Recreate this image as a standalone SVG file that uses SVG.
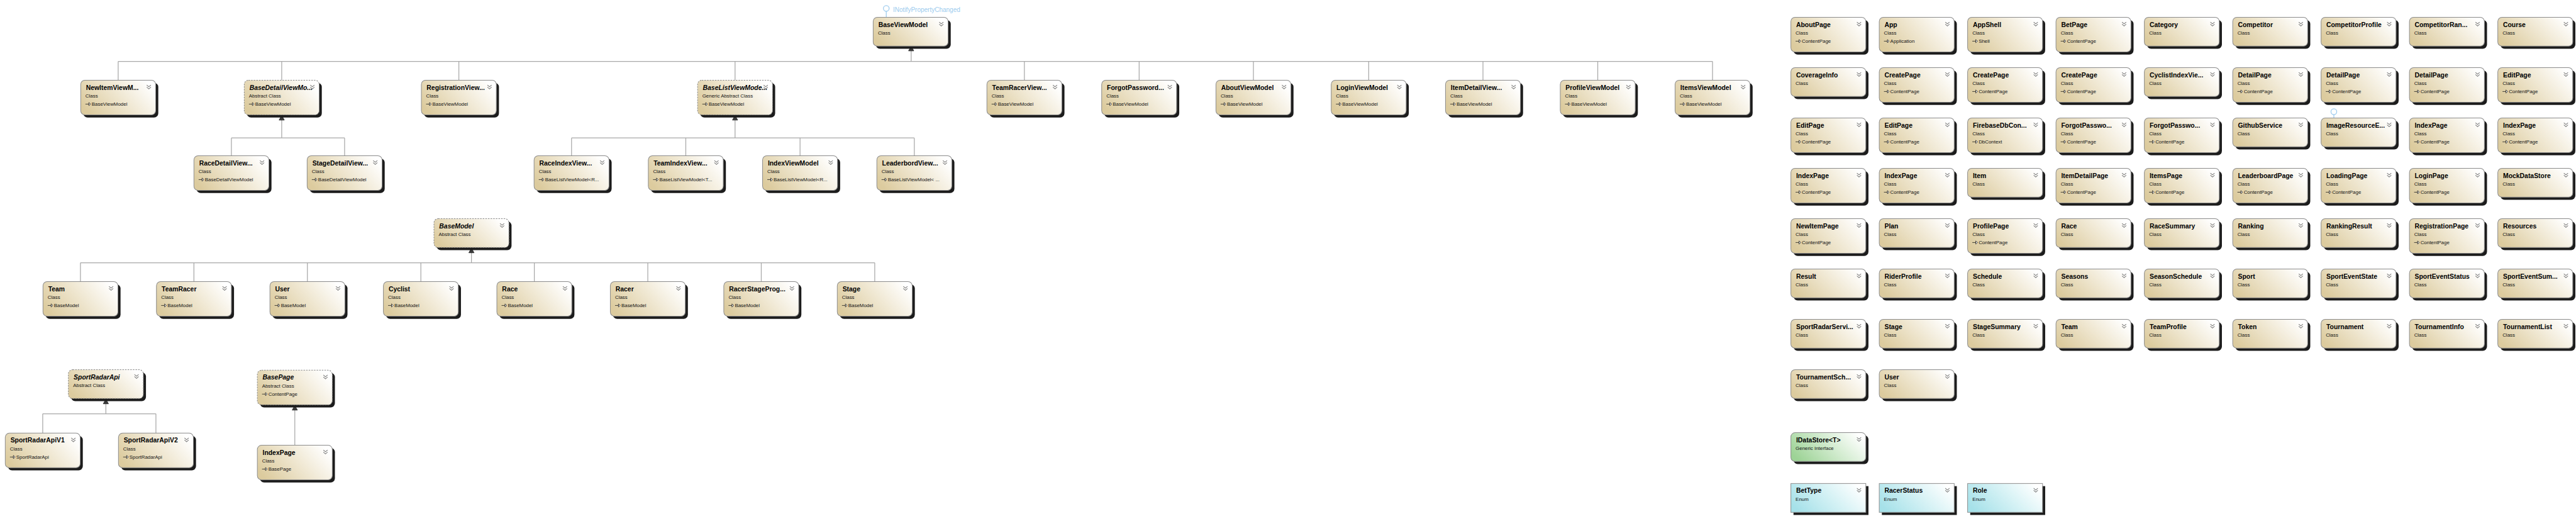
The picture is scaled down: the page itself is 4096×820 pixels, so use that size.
<svg xmlns="http://www.w3.org/2000/svg" xmlns:xlink="http://www.w3.org/1999/xlink" width="4096" height="820" viewBox="0 0 4096 820">
<defs>
<style>
.s{fill:#1c1c1c}
.b{fill:url(#gc);stroke:#8c8c8c;stroke-width:1.2}
.ab{fill:url(#gc);stroke:#8c8c8c;stroke-width:1.2;stroke-dasharray:3 2}
.be{fill:url(#ge);stroke:#8c8c8c;stroke-width:1.2}
.bi{fill:url(#gi);stroke:#8c8c8c;stroke-width:1.2}
.n{font-family:"Liberation Sans",Arial,sans-serif;font-weight:bold;font-size:12.5px;fill:#000}
.ni{font-style:italic}
.t{font-family:"Liberation Sans",Arial,sans-serif;font-size:9.5px;fill:#111}
.c{stroke:#a8a8a8;stroke-width:1.5;fill:none}
.ah{fill:#3a3a3a;stroke:#222;stroke-width:1}
.lp{stroke:#9ccbee;stroke-width:1.5;fill:#fff}
.lpt{font-family:"Liberation Sans",Arial,sans-serif;font-size:12px;fill:#9ccbee}
</style>
<linearGradient id="gc" x1="0" y1="0.7" x2="1" y2="0.3">
<stop offset="0" stop-color="#dccb9e"/><stop offset="0.55" stop-color="#f0e8d3"/><stop offset="1" stop-color="#ffffff"/>
</linearGradient>
<linearGradient id="ge" x1="0" y1="0.7" x2="1" y2="0.3">
<stop offset="0" stop-color="#a6e1e9"/><stop offset="0.55" stop-color="#d6f2f5"/><stop offset="1" stop-color="#ffffff"/>
</linearGradient>
<linearGradient id="gi" x1="0" y1="0.7" x2="1" y2="0.3">
<stop offset="0" stop-color="#9dd396"/><stop offset="0.55" stop-color="#d3ecd0"/><stop offset="1" stop-color="#ffffff"/>
</linearGradient>
<path id="chev" d="M0,0 L4,3.5 L8,0 M0,4 L4,7.5 L8,4" fill="none" stroke="#7a7a7a" stroke-width="1.2"/>
<path id="inh" d="M0,0 H7 M6.5,-3 L10,0 L6.5,3 Z" fill="#fff" stroke="#111" stroke-width="0.9"/>
<g id="c3"><rect class="s" x="5" y="5" width="143" height="66" rx="8"/><rect class="b" width="143" height="66" rx="8"/><use href="#chev" x="126" y="9"/></g>
<g id="c2"><rect class="s" x="5" y="5" width="143" height="55" rx="8"/><rect class="b" width="143" height="55" rx="8"/><use href="#chev" x="126" y="9"/></g>
<g id="a3"><rect class="s" x="5" y="5" width="143" height="66" rx="8"/><rect class="ab" width="143" height="66" rx="8"/><use href="#chev" x="126" y="9"/></g>
<g id="a2"><rect class="s" x="5" y="5" width="143" height="55" rx="8"/><rect class="ab" width="143" height="55" rx="8"/><use href="#chev" x="126" y="9"/></g>
<g id="e2"><rect class="s" x="5" y="5" width="143" height="55"/><rect class="be" width="143" height="55"/><use href="#chev" x="126" y="9"/></g>
<g id="i2"><rect class="s" x="5" y="5" width="143" height="55" rx="8"/><rect class="bi" width="143" height="55" rx="8"/><use href="#chev" x="126" y="9"/></g>
</defs>
<rect width="4096" height="820" fill="#fff"/>
<g transform="scale(0.833367)">
<g id="connectors">
<circle class="lp" cx="1691" cy="16" r="5.5"/>
<line class="lp" x1="1691" y1="21.5" x2="1691" y2="33"/>
<text class="lpt" x="1704" y="23">INotifyPropertyChanged</text>
<circle class="lp" cx="4453" cy="213" r="5.5"/>
<line class="lp" x1="4453" y1="218.5" x2="4453" y2="225"/>
<path class="c" d="M1738.5,97 V117 M225.5,117 H3267.5 M225.5,117 V153 M537.5,117 V153 M875.5,117 V153 M1402.5,117 V153 M1954.5,117 V153 M2173.5,117 V153 M2391.5,117 V153 M2611.5,117 V153 M2829.5,117 V153 M3048.5,117 V153 M3267.5,117 V153"/>
<polygon class="ah" points="1738.5,88 1733.5,97 1743.5,97"/>
<path class="c" d="M537.5,229 V263 M441.5,263 H657.5 M441.5,263 V297 M657.5,263 V297"/>
<polygon class="ah" points="537.5,220 532.5,229 542.5,229"/>
<path class="c" d="M1402.5,229 V263 M1090.5,263 H1744.5 M1090.5,263 V297 M1308.5,263 V297 M1526.5,263 V297 M1744.5,263 V297"/>
<polygon class="ah" points="1402.5,220 1397.5,229 1407.5,229"/>
<path class="c" d="M899.5,482 V501 M153.5,501 H1669 M153.5,501 V537 M370,501 V537 M586.5,501 V537 M803,501 V537 M1019.5,501 V537 M1236,501 V537 M1452.5,501 V537 M1669,501 V537"/>
<polygon class="ah" points="899.5,473 894.5,482 904.5,482"/>
<path class="c" d="M202,770 V789 M81.5,789 H297.5 M81.5,789 V826 M297.5,789 V826"/>
<polygon class="ah" points="202,761 197,770 207,770"/>
<path class="c" d="M562.5,782 V849"/>
<polygon class="ah" points="562.5,773 557.5,782 567.5,782"/>
</g>
<g id="BaseViewModel" transform="translate(1666,33)"><use href="#c2"/><text class="n" x="10" y="18">BaseViewModel</text><text class="t" x="9" y="33">Class</text></g>
<g id="NewItemViewModel" transform="translate(154,153)"><use href="#c3"/><text class="n" x="10" y="18">NewItemViewM...</text><text class="t" x="9" y="33">Class</text><use href="#inh" x="9" y="45.5"/><text class="t" x="21" y="49">BaseViewModel</text></g>
<g id="BaseDetailViewModel" transform="translate(466,153)"><use href="#a3"/><text class="n ni" x="10" y="18">BaseDetailViewMo...</text><text class="t" x="9" y="33">Abstract Class</text><use href="#inh" x="9" y="45.5"/><text class="t" x="21" y="49">BaseViewModel</text></g>
<g id="RegistrationViewModel" transform="translate(804,153)"><use href="#c3"/><text class="n" x="10" y="18">RegistrationView...</text><text class="t" x="9" y="33">Class</text><use href="#inh" x="9" y="45.5"/><text class="t" x="21" y="49">BaseViewModel</text></g>
<g id="BaseListViewModel" transform="translate(1331,153)"><use href="#a3"/><text class="n ni" x="10" y="18">BaseListViewMode...</text><text class="t" x="9" y="33">Generic Abstract Class</text><use href="#inh" x="9" y="45.5"/><text class="t" x="21" y="49">BaseViewModel</text></g>
<g id="TeamRacerViewModel" transform="translate(1883,153)"><use href="#c3"/><text class="n" x="10" y="18">TeamRacerView...</text><text class="t" x="9" y="33">Class</text><use href="#inh" x="9" y="45.5"/><text class="t" x="21" y="49">BaseViewModel</text></g>
<g id="ForgotPasswordViewModel" transform="translate(2102,153)"><use href="#c3"/><text class="n" x="10" y="18">ForgotPassword...</text><text class="t" x="9" y="33">Class</text><use href="#inh" x="9" y="45.5"/><text class="t" x="21" y="49">BaseViewModel</text></g>
<g id="AboutViewModel" transform="translate(2320,153)"><use href="#c3"/><text class="n" x="10" y="18">AboutViewModel</text><text class="t" x="9" y="33">Class</text><use href="#inh" x="9" y="45.5"/><text class="t" x="21" y="49">BaseViewModel</text></g>
<g id="LoginViewModel" transform="translate(2540,153)"><use href="#c3"/><text class="n" x="10" y="18">LoginViewModel</text><text class="t" x="9" y="33">Class</text><use href="#inh" x="9" y="45.5"/><text class="t" x="21" y="49">BaseViewModel</text></g>
<g id="ItemDetailViewModel" transform="translate(2758,153)"><use href="#c3"/><text class="n" x="10" y="18">ItemDetailView...</text><text class="t" x="9" y="33">Class</text><use href="#inh" x="9" y="45.5"/><text class="t" x="21" y="49">BaseViewModel</text></g>
<g id="ProfileViewModel" transform="translate(2977,153)"><use href="#c3"/><text class="n" x="10" y="18">ProfileViewModel</text><text class="t" x="9" y="33">Class</text><use href="#inh" x="9" y="45.5"/><text class="t" x="21" y="49">BaseViewModel</text></g>
<g id="ItemsViewModel" transform="translate(3196,153)"><use href="#c3"/><text class="n" x="10" y="18">ItemsViewModel</text><text class="t" x="9" y="33">Class</text><use href="#inh" x="9" y="45.5"/><text class="t" x="21" y="49">BaseViewModel</text></g>
<g id="RaceDetailViewModel" transform="translate(370,297)"><use href="#c3"/><text class="n" x="10" y="18">RaceDetailView...</text><text class="t" x="9" y="33">Class</text><use href="#inh" x="9" y="45.5"/><text class="t" x="21" y="49">BaseDetailViewModel</text></g>
<g id="StageDetailViewModel" transform="translate(586,297)"><use href="#c3"/><text class="n" x="10" y="18">StageDetailView...</text><text class="t" x="9" y="33">Class</text><use href="#inh" x="9" y="45.5"/><text class="t" x="21" y="49">BaseDetailViewModel</text></g>
<g id="RaceIndexViewModel" transform="translate(1019,297)"><use href="#c3"/><text class="n" x="10" y="18">RaceIndexView...</text><text class="t" x="9" y="33">Class</text><use href="#inh" x="9" y="45.5"/><text class="t" x="21" y="49">BaseListViewModel&lt;R...</text></g>
<g id="TeamIndexViewModel" transform="translate(1237,297)"><use href="#c3"/><text class="n" x="10" y="18">TeamIndexView...</text><text class="t" x="9" y="33">Class</text><use href="#inh" x="9" y="45.5"/><text class="t" x="21" y="49">BaseListViewModel&lt;T...</text></g>
<g id="IndexViewModel" transform="translate(1455,297)"><use href="#c3"/><text class="n" x="10" y="18">IndexViewModel</text><text class="t" x="9" y="33">Class</text><use href="#inh" x="9" y="45.5"/><text class="t" x="21" y="49">BaseListViewModel&lt;R...</text></g>
<g id="LeaderbordViewModel" transform="translate(1673,297)"><use href="#c3"/><text class="n" x="10" y="18">LeaderbordView...</text><text class="t" x="9" y="33">Class</text><use href="#inh" x="9" y="45.5"/><text class="t" x="21" y="49">BaseListViewModel&lt; ...</text></g>
<g id="BaseModel" transform="translate(828,417)"><use href="#a2"/><text class="n ni" x="10" y="18">BaseModel</text><text class="t" x="9" y="33">Abstract Class</text></g>
<g id="Team" transform="translate(82,537)"><use href="#c3"/><text class="n" x="10" y="18">Team</text><text class="t" x="9" y="33">Class</text><use href="#inh" x="9" y="45.5"/><text class="t" x="21" y="49">BaseModel</text></g>
<g id="TeamRacer" transform="translate(298.5,537)"><use href="#c3"/><text class="n" x="10" y="18">TeamRacer</text><text class="t" x="9" y="33">Class</text><use href="#inh" x="9" y="45.5"/><text class="t" x="21" y="49">BaseModel</text></g>
<g id="User" transform="translate(515,537)"><use href="#c3"/><text class="n" x="10" y="18">User</text><text class="t" x="9" y="33">Class</text><use href="#inh" x="9" y="45.5"/><text class="t" x="21" y="49">BaseModel</text></g>
<g id="Cyclist" transform="translate(731.5,537)"><use href="#c3"/><text class="n" x="10" y="18">Cyclist</text><text class="t" x="9" y="33">Class</text><use href="#inh" x="9" y="45.5"/><text class="t" x="21" y="49">BaseModel</text></g>
<g id="Race" transform="translate(948,537)"><use href="#c3"/><text class="n" x="10" y="18">Race</text><text class="t" x="9" y="33">Class</text><use href="#inh" x="9" y="45.5"/><text class="t" x="21" y="49">BaseModel</text></g>
<g id="Racer" transform="translate(1164.5,537)"><use href="#c3"/><text class="n" x="10" y="18">Racer</text><text class="t" x="9" y="33">Class</text><use href="#inh" x="9" y="45.5"/><text class="t" x="21" y="49">BaseModel</text></g>
<g id="RacerStageProgress" transform="translate(1381,537)"><use href="#c3"/><text class="n" x="10" y="18">RacerStageProg...</text><text class="t" x="9" y="33">Class</text><use href="#inh" x="9" y="45.5"/><text class="t" x="21" y="49">BaseModel</text></g>
<g id="Stage" transform="translate(1597.5,537)"><use href="#c3"/><text class="n" x="10" y="18">Stage</text><text class="t" x="9" y="33">Class</text><use href="#inh" x="9" y="45.5"/><text class="t" x="21" y="49">BaseModel</text></g>
<g id="SportRadarApi" transform="translate(130.5,705)"><use href="#a2"/><text class="n ni" x="10" y="18">SportRadarApi</text><text class="t" x="9" y="33">Abstract Class</text></g>
<g id="SportRadarApiV1" transform="translate(10,826)"><use href="#c3"/><text class="n" x="10" y="18">SportRadarApiV1</text><text class="t" x="9" y="33">Class</text><use href="#inh" x="9" y="45.5"/><text class="t" x="21" y="49">SportRadarApi</text></g>
<g id="SportRadarApiV2" transform="translate(226,826)"><use href="#c3"/><text class="n" x="10" y="18">SportRadarApiV2</text><text class="t" x="9" y="33">Class</text><use href="#inh" x="9" y="45.5"/><text class="t" x="21" y="49">SportRadarApi</text></g>
<g id="BasePage" transform="translate(491,706)"><use href="#a3"/><text class="n ni" x="10" y="18">BasePage</text><text class="t" x="9" y="33">Abstract Class</text><use href="#inh" x="9" y="45.5"/><text class="t" x="21" y="49">ContentPage</text></g>
<g id="IndexPage" transform="translate(491,849)"><use href="#c3"/><text class="n" x="10" y="18">IndexPage</text><text class="t" x="9" y="33">Class</text><use href="#inh" x="9" y="45.5"/><text class="t" x="21" y="49">BasePage</text></g>
<g id="r1c1" transform="translate(3417,33)"><use href="#c3"/><text class="n" x="10" y="18">AboutPage</text><text class="t" x="9" y="33">Class</text><use href="#inh" x="9" y="45.5"/><text class="t" x="21" y="49">ContentPage</text></g>
<g id="r1c2" transform="translate(3585.6,33)"><use href="#c3"/><text class="n" x="10" y="18">App</text><text class="t" x="9" y="33">Class</text><use href="#inh" x="9" y="45.5"/><text class="t" x="21" y="49">Application</text></g>
<g id="r1c3" transform="translate(3754.2,33)"><use href="#c3"/><text class="n" x="10" y="18">AppShell</text><text class="t" x="9" y="33">Class</text><use href="#inh" x="9" y="45.5"/><text class="t" x="21" y="49">Shell</text></g>
<g id="r1c4" transform="translate(3922.8,33)"><use href="#c3"/><text class="n" x="10" y="18">BetPage</text><text class="t" x="9" y="33">Class</text><use href="#inh" x="9" y="45.5"/><text class="t" x="21" y="49">ContentPage</text></g>
<g id="r1c5" transform="translate(4091.4,33)"><use href="#c2"/><text class="n" x="10" y="18">Category</text><text class="t" x="9" y="33">Class</text></g>
<g id="r1c6" transform="translate(4260,33)"><use href="#c2"/><text class="n" x="10" y="18">Competitor</text><text class="t" x="9" y="33">Class</text></g>
<g id="r1c7" transform="translate(4428.6,33)"><use href="#c2"/><text class="n" x="10" y="18">CompetitorProfile</text><text class="t" x="9" y="33">Class</text></g>
<g id="r1c8" transform="translate(4597.2,33)"><use href="#c2"/><text class="n" x="10" y="18">CompetitorRan...</text><text class="t" x="9" y="33">Class</text></g>
<g id="r1c9" transform="translate(4765.8,33)"><use href="#c2"/><text class="n" x="10" y="18">Course</text><text class="t" x="9" y="33">Class</text></g>
<g id="r2c1" transform="translate(3417,129)"><use href="#c2"/><text class="n" x="10" y="18">CoverageInfo</text><text class="t" x="9" y="33">Class</text></g>
<g id="r2c2" transform="translate(3585.6,129)"><use href="#c3"/><text class="n" x="10" y="18">CreatePage</text><text class="t" x="9" y="33">Class</text><use href="#inh" x="9" y="45.5"/><text class="t" x="21" y="49">ContentPage</text></g>
<g id="r2c3" transform="translate(3754.2,129)"><use href="#c3"/><text class="n" x="10" y="18">CreatePage</text><text class="t" x="9" y="33">Class</text><use href="#inh" x="9" y="45.5"/><text class="t" x="21" y="49">ContentPage</text></g>
<g id="r2c4" transform="translate(3922.8,129)"><use href="#c3"/><text class="n" x="10" y="18">CreatePage</text><text class="t" x="9" y="33">Class</text><use href="#inh" x="9" y="45.5"/><text class="t" x="21" y="49">ContentPage</text></g>
<g id="r2c5" transform="translate(4091.4,129)"><use href="#c2"/><text class="n" x="10" y="18">CyclistIndexVie...</text><text class="t" x="9" y="33">Class</text></g>
<g id="r2c6" transform="translate(4260,129)"><use href="#c3"/><text class="n" x="10" y="18">DetailPage</text><text class="t" x="9" y="33">Class</text><use href="#inh" x="9" y="45.5"/><text class="t" x="21" y="49">ContentPage</text></g>
<g id="r2c7" transform="translate(4428.6,129)"><use href="#c3"/><text class="n" x="10" y="18">DetailPage</text><text class="t" x="9" y="33">Class</text><use href="#inh" x="9" y="45.5"/><text class="t" x="21" y="49">ContentPage</text></g>
<g id="r2c8" transform="translate(4597.2,129)"><use href="#c3"/><text class="n" x="10" y="18">DetailPage</text><text class="t" x="9" y="33">Class</text><use href="#inh" x="9" y="45.5"/><text class="t" x="21" y="49">ContentPage</text></g>
<g id="r2c9" transform="translate(4765.8,129)"><use href="#c3"/><text class="n" x="10" y="18">EditPage</text><text class="t" x="9" y="33">Class</text><use href="#inh" x="9" y="45.5"/><text class="t" x="21" y="49">ContentPage</text></g>
<g id="r3c1" transform="translate(3417,225)"><use href="#c3"/><text class="n" x="10" y="18">EditPage</text><text class="t" x="9" y="33">Class</text><use href="#inh" x="9" y="45.5"/><text class="t" x="21" y="49">ContentPage</text></g>
<g id="r3c2" transform="translate(3585.6,225)"><use href="#c3"/><text class="n" x="10" y="18">EditPage</text><text class="t" x="9" y="33">Class</text><use href="#inh" x="9" y="45.5"/><text class="t" x="21" y="49">ContentPage</text></g>
<g id="r3c3" transform="translate(3754.2,225)"><use href="#c3"/><text class="n" x="10" y="18">FirebaseDbCon...</text><text class="t" x="9" y="33">Class</text><use href="#inh" x="9" y="45.5"/><text class="t" x="21" y="49">DbContext</text></g>
<g id="r3c4" transform="translate(3922.8,225)"><use href="#c3"/><text class="n" x="10" y="18">ForgotPasswo...</text><text class="t" x="9" y="33">Class</text><use href="#inh" x="9" y="45.5"/><text class="t" x="21" y="49">ContentPage</text></g>
<g id="r3c5" transform="translate(4091.4,225)"><use href="#c3"/><text class="n" x="10" y="18">ForgotPasswo...</text><text class="t" x="9" y="33">Class</text><use href="#inh" x="9" y="45.5"/><text class="t" x="21" y="49">ContentPage</text></g>
<g id="r3c6" transform="translate(4260,225)"><use href="#c2"/><text class="n" x="10" y="18">GithubService</text><text class="t" x="9" y="33">Class</text></g>
<g id="r3c7" transform="translate(4428.6,225)"><use href="#c2"/><text class="n" x="10" y="18">ImageResourceE...</text><text class="t" x="9" y="33">Class</text></g>
<g id="r3c8" transform="translate(4597.2,225)"><use href="#c3"/><text class="n" x="10" y="18">IndexPage</text><text class="t" x="9" y="33">Class</text><use href="#inh" x="9" y="45.5"/><text class="t" x="21" y="49">ContentPage</text></g>
<g id="r3c9" transform="translate(4765.8,225)"><use href="#c3"/><text class="n" x="10" y="18">IndexPage</text><text class="t" x="9" y="33">Class</text><use href="#inh" x="9" y="45.5"/><text class="t" x="21" y="49">ContentPage</text></g>
<g id="r4c1" transform="translate(3417,321)"><use href="#c3"/><text class="n" x="10" y="18">IndexPage</text><text class="t" x="9" y="33">Class</text><use href="#inh" x="9" y="45.5"/><text class="t" x="21" y="49">ContentPage</text></g>
<g id="r4c2" transform="translate(3585.6,321)"><use href="#c3"/><text class="n" x="10" y="18">IndexPage</text><text class="t" x="9" y="33">Class</text><use href="#inh" x="9" y="45.5"/><text class="t" x="21" y="49">ContentPage</text></g>
<g id="r4c3" transform="translate(3754.2,321)"><use href="#c2"/><text class="n" x="10" y="18">Item</text><text class="t" x="9" y="33">Class</text></g>
<g id="r4c4" transform="translate(3922.8,321)"><use href="#c3"/><text class="n" x="10" y="18">ItemDetailPage</text><text class="t" x="9" y="33">Class</text><use href="#inh" x="9" y="45.5"/><text class="t" x="21" y="49">ContentPage</text></g>
<g id="r4c5" transform="translate(4091.4,321)"><use href="#c3"/><text class="n" x="10" y="18">ItemsPage</text><text class="t" x="9" y="33">Class</text><use href="#inh" x="9" y="45.5"/><text class="t" x="21" y="49">ContentPage</text></g>
<g id="r4c6" transform="translate(4260,321)"><use href="#c3"/><text class="n" x="10" y="18">LeaderboardPage</text><text class="t" x="9" y="33">Class</text><use href="#inh" x="9" y="45.5"/><text class="t" x="21" y="49">ContentPage</text></g>
<g id="r4c7" transform="translate(4428.6,321)"><use href="#c3"/><text class="n" x="10" y="18">LoadingPage</text><text class="t" x="9" y="33">Class</text><use href="#inh" x="9" y="45.5"/><text class="t" x="21" y="49">ContentPage</text></g>
<g id="r4c8" transform="translate(4597.2,321)"><use href="#c3"/><text class="n" x="10" y="18">LoginPage</text><text class="t" x="9" y="33">Class</text><use href="#inh" x="9" y="45.5"/><text class="t" x="21" y="49">ContentPage</text></g>
<g id="r4c9" transform="translate(4765.8,321)"><use href="#c2"/><text class="n" x="10" y="18">MockDataStore</text><text class="t" x="9" y="33">Class</text></g>
<g id="r5c1" transform="translate(3417,417)"><use href="#c3"/><text class="n" x="10" y="18">NewItemPage</text><text class="t" x="9" y="33">Class</text><use href="#inh" x="9" y="45.5"/><text class="t" x="21" y="49">ContentPage</text></g>
<g id="r5c2" transform="translate(3585.6,417)"><use href="#c2"/><text class="n" x="10" y="18">Plan</text><text class="t" x="9" y="33">Class</text></g>
<g id="r5c3" transform="translate(3754.2,417)"><use href="#c3"/><text class="n" x="10" y="18">ProfilePage</text><text class="t" x="9" y="33">Class</text><use href="#inh" x="9" y="45.5"/><text class="t" x="21" y="49">ContentPage</text></g>
<g id="r5c4" transform="translate(3922.8,417)"><use href="#c2"/><text class="n" x="10" y="18">Race</text><text class="t" x="9" y="33">Class</text></g>
<g id="r5c5" transform="translate(4091.4,417)"><use href="#c2"/><text class="n" x="10" y="18">RaceSummary</text><text class="t" x="9" y="33">Class</text></g>
<g id="r5c6" transform="translate(4260,417)"><use href="#c2"/><text class="n" x="10" y="18">Ranking</text><text class="t" x="9" y="33">Class</text></g>
<g id="r5c7" transform="translate(4428.6,417)"><use href="#c2"/><text class="n" x="10" y="18">RankingResult</text><text class="t" x="9" y="33">Class</text></g>
<g id="r5c8" transform="translate(4597.2,417)"><use href="#c3"/><text class="n" x="10" y="18">RegistrationPage</text><text class="t" x="9" y="33">Class</text><use href="#inh" x="9" y="45.5"/><text class="t" x="21" y="49">ContentPage</text></g>
<g id="r5c9" transform="translate(4765.8,417)"><use href="#c2"/><text class="n" x="10" y="18">Resources</text><text class="t" x="9" y="33">Class</text></g>
<g id="r6c1" transform="translate(3417,513)"><use href="#c2"/><text class="n" x="10" y="18">Result</text><text class="t" x="9" y="33">Class</text></g>
<g id="r6c2" transform="translate(3585.6,513)"><use href="#c2"/><text class="n" x="10" y="18">RiderProfile</text><text class="t" x="9" y="33">Class</text></g>
<g id="r6c3" transform="translate(3754.2,513)"><use href="#c2"/><text class="n" x="10" y="18">Schedule</text><text class="t" x="9" y="33">Class</text></g>
<g id="r6c4" transform="translate(3922.8,513)"><use href="#c2"/><text class="n" x="10" y="18">Seasons</text><text class="t" x="9" y="33">Class</text></g>
<g id="r6c5" transform="translate(4091.4,513)"><use href="#c2"/><text class="n" x="10" y="18">SeasonSchedule</text><text class="t" x="9" y="33">Class</text></g>
<g id="r6c6" transform="translate(4260,513)"><use href="#c2"/><text class="n" x="10" y="18">Sport</text><text class="t" x="9" y="33">Class</text></g>
<g id="r6c7" transform="translate(4428.6,513)"><use href="#c2"/><text class="n" x="10" y="18">SportEventState</text><text class="t" x="9" y="33">Class</text></g>
<g id="r6c8" transform="translate(4597.2,513)"><use href="#c2"/><text class="n" x="10" y="18">SportEventStatus</text><text class="t" x="9" y="33">Class</text></g>
<g id="r6c9" transform="translate(4765.8,513)"><use href="#c2"/><text class="n" x="10" y="18">SportEventSum...</text><text class="t" x="9" y="33">Class</text></g>
<g id="r7c1" transform="translate(3417,609)"><use href="#c2"/><text class="n" x="10" y="18">SportRadarServi...</text><text class="t" x="9" y="33">Class</text></g>
<g id="r7c2" transform="translate(3585.6,609)"><use href="#c2"/><text class="n" x="10" y="18">Stage</text><text class="t" x="9" y="33">Class</text></g>
<g id="r7c3" transform="translate(3754.2,609)"><use href="#c2"/><text class="n" x="10" y="18">StageSummary</text><text class="t" x="9" y="33">Class</text></g>
<g id="r7c4" transform="translate(3922.8,609)"><use href="#c2"/><text class="n" x="10" y="18">Team</text><text class="t" x="9" y="33">Class</text></g>
<g id="r7c5" transform="translate(4091.4,609)"><use href="#c2"/><text class="n" x="10" y="18">TeamProfile</text><text class="t" x="9" y="33">Class</text></g>
<g id="r7c6" transform="translate(4260,609)"><use href="#c2"/><text class="n" x="10" y="18">Token</text><text class="t" x="9" y="33">Class</text></g>
<g id="r7c7" transform="translate(4428.6,609)"><use href="#c2"/><text class="n" x="10" y="18">Tournament</text><text class="t" x="9" y="33">Class</text></g>
<g id="r7c8" transform="translate(4597.2,609)"><use href="#c2"/><text class="n" x="10" y="18">TournamentInfo</text><text class="t" x="9" y="33">Class</text></g>
<g id="r7c9" transform="translate(4765.8,609)"><use href="#c2"/><text class="n" x="10" y="18">TournamentList</text><text class="t" x="9" y="33">Class</text></g>
<g id="r8c1" transform="translate(3417,705)"><use href="#c2"/><text class="n" x="10" y="18">TournamentSch...</text><text class="t" x="9" y="33">Class</text></g>
<g id="r8c2" transform="translate(3585.6,705)"><use href="#c2"/><text class="n" x="10" y="18">User</text><text class="t" x="9" y="33">Class</text></g>
<g id="IDataStore" transform="translate(3417,825)"><use href="#i2"/><text class="n" x="10" y="18">IDataStore&lt;T&gt;</text><text class="t" x="9" y="33">Generic Interface</text></g>
<g id="BetType" transform="translate(3417,922)"><use href="#e2"/><text class="n" x="10" y="18">BetType</text><text class="t" x="9" y="33">Enum</text></g>
<g id="RacerStatus" transform="translate(3585.6,922)"><use href="#e2"/><text class="n" x="10" y="18">RacerStatus</text><text class="t" x="9" y="33">Enum</text></g>
<g id="Role" transform="translate(3754.2,922)"><use href="#e2"/><text class="n" x="10" y="18">Role</text><text class="t" x="9" y="33">Enum</text></g>
</g>
</svg>
